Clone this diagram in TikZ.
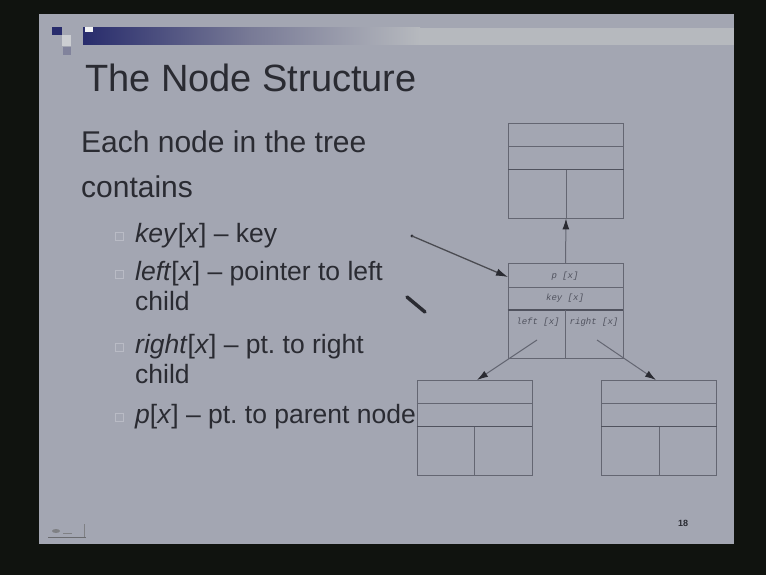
\documentclass[tikz,border=0pt]{standalone}
\usepackage{fontspec}
\setmainfont{Liberation Sans}
\newfontfamily\labelfont{Liberation Mono}
\usetikzlibrary{arrows.meta,calc}
\frenchspacing

\definecolor{screen}{RGB}{16,19,15}
\definecolor{slide}{RGB}{163,166,178}
\definecolor{barnavy}{RGB}{40,44,108}
\definecolor{barmid}{RGB}{120,122,150}
\definecolor{barlight}{RGB}{182,185,190}
\definecolor{ink}{RGB}{42,43,50}
\definecolor{boxline}{RGB}{100,102,114}
\definecolor{boxdark}{RGB}{80,82,94}
\definecolor{bulletgray}{RGB}{185,187,197}

% row and column lines inside one tree node
\newcommand\nodecells[1]{%
  \draw[cellline] ($(#1.north west)+(0,24)$) -- ($(#1.north east)+(0,24)$);
  \draw[divline]  ($(#1.north west)+(0,47)$) -- ($(#1.north east)+(0,47)$);
  \draw[cellline] ($(#1.north)+(0,47)$) -- (#1.south);
}

\begin{document}
\begin{tikzpicture}[x=1pt,y=-1pt,
  titletext/.style={anchor=base west,inner sep=0pt,text=ink,font=\fontsize{38}{40}\selectfont},
  bodytext/.style={anchor=base west,inner sep=0pt,text=ink,font=\fontsize{30}{32}\selectfont},
  itemtext/.style={anchor=base west,inner sep=0pt,text=ink,font=\fontsize{26.5}{28}\selectfont},
  bulletbox/.style={draw=bulletgray,line width=0.8pt,minimum size=8pt,inner sep=0pt},
  treenode/.style={draw=boxline,line width=0.9pt,minimum width=115pt,minimum height=95pt,inner sep=0pt},
  cellline/.style={draw=boxline,line width=0.9pt},
  divline/.style={draw=boxdark,line width=1.6pt},
  fieldlabel/.style={inner sep=0pt,text=boxdark,font=\labelfont\itshape\fontsize{9}{10}\selectfont},
  link/.style={draw=boxline,line width=1pt,-{Latex[length=11pt,width=7pt,color=ink]}},
  pointer/.style={draw=ink!85,line width=1.3pt,-{Latex[length=12pt,width=7.5pt,color=ink]}}
]
\useasboundingbox (0,0) rectangle (766,575);
\fill[screen] (0,0) rectangle (766,575);
\fill[slide] (39,14) rectangle (734,544);

% header band and corner squares
\shade[left color=barnavy,right color=barmid] (83,28) rectangle (250,45);
\shade[left color=barmid,right color=barlight] (249.5,28) rectangle (420,45);
\fill[barlight] (419.5,28) rectangle (734,45);
\fill[barnavy] (52,27) rectangle (62,35);
\fill[barlight!70!white] (62,35) rectangle (71,46);
\fill[barmid!80!slide] (63,47) rectangle (71,55);
\fill[white!85!slide] (85,27) rectangle (93,32);

% title and bullet list
\node[titletext] (title) at (85,92) {The Node Structure};
\node[bodytext] (intro1) at (81,153) {Each node in the tree};
\node[bodytext] (intro2) at (81,197) {contains};

\node[bulletbox] (b1) at (119,236) {};
\node[itemtext] (key) at (135,242) {\textit{key}[\textit{x}] – key};
\node[bulletbox] (b2) at (119,274) {};
\node[itemtext] (left) at (135,280) {\textit{left}[\textit{x}] – pointer to left};
\node[itemtext] (left2) at (135,310) {child};
\node[bulletbox] (b3) at (119,347) {};
\node[itemtext] (right) at (135,353) {\textit{right}[\textit{x}] – pt. to right};
\node[itemtext] (right2) at (135,383) {child};
\node[bulletbox] (b4) at (119,417) {};
\node[itemtext] (parent) at (135,423) {\textit{p}[\textit{x}] – pt. to parent node};

% tree nodes
\node[treenode] (up) at (566,170.5) {};
\node[treenode] (mid) at (565.5,311) {};
\node[treenode] (lchild) at (474.5,427.5) {};
\node[treenode] (rchild) at (659,427.5) {};
\nodecells{up}
\nodecells{mid}
\nodecells{lchild}
\nodecells{rchild}

% field names of the middle node
\node[fieldlabel] (fp) at (565,276) {p [x]};
\node[fieldlabel] (fkey) at (565,298.5) {key [x]};
\node[fieldlabel] (fleft) at (538,322) {left [x]};
\node[fieldlabel] (fright) at (594,322) {right [x]};

% links between nodes
\draw[link] (mid.north) -- (up.south);
\coordinate (lstart) at (537,340);
\coordinate (rstart) at (597,340);
\coordinate (lend) at (477,380);
\coordinate (rend) at (656,380);
\draw[link] (lstart) -- (lend);
\draw[link] (rstart) -- (rend);

% incoming pointer to the node
\coordinate (ptrsrc) at (412,236);
\coordinate (ptrdst) at (508,277);
\fill[ink] (ptrsrc) circle (1.6pt);
\draw[pointer] (ptrsrc) -- (ptrdst);

% pen stroke
\draw[ink,line width=3.5pt,line cap=round] (407,297) -- (425,312);

% footer: logo and page number
\draw[ink!70,line width=0.9pt] (48,537) -- (86,537);
\fill[ink!60] (56,531) ellipse (4pt and 2pt);
\draw[ink!60,line width=0.9pt] (63,533) -- (72,533);
\draw[ink!60,line width=0.9pt] (84,524) -- (84,537);
\node[inner sep=0pt,text=ink,font=\bfseries\fontsize{9}{10}\selectfont] (pageno) at (683,523) {18};
\end{tikzpicture}
\end{document}
